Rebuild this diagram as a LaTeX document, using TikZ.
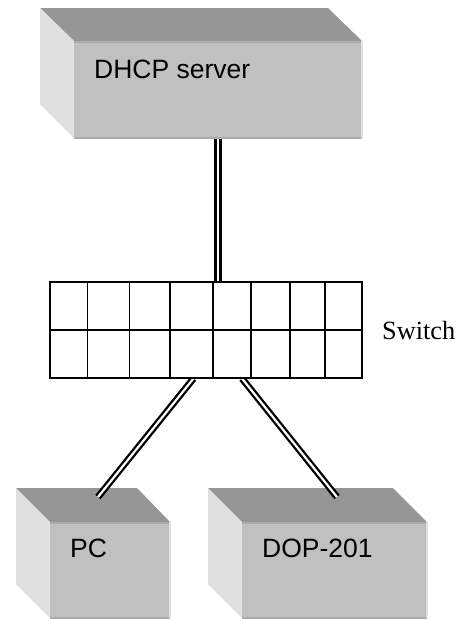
\documentclass[tikz,border=0pt]{standalone}
\usepackage{fontspec}
\setmainfont{Liberation Sans}
\newfontfamily\serifface{Liberation Serif}
\definecolor{topc}{HTML}{969696}
\definecolor{frontc}{HTML}{C0C0C0}
\definecolor{sidec}{HTML}{E0E0E0}
\definecolor{edgec}{HTML}{ABABAB}
\tikzset{
  x=1pt,y=-1pt,
  toplit/.style={fill=topc},
  frontlit/.style={fill=frontc},
  sidelit/.style={fill=sidec},
  darkedge/.style={edgec,line width=2pt},
  lightedge/.style={sidec,line width=2pt},
  lab/.style={inner sep=0pt,anchor=base west,font=\fontsize{26.5}{30}\selectfont,text=black},
  cable/.style={line width=8pt,black,line cap=butt},
  cablein/.style={line width=2.4pt,white,line cap=butt},
  slant/.style={line width=6.8pt,black,line cap=butt},
  slantin/.style={line width=2.2pt,white,line cap=butt},
  cellline/.style={line width=1.7pt,black},
}
\begin{document}
\begin{tikzpicture}
\useasboundingbox (0,0) rectangle (466,619);
% DHCP box
\fill[toplit] (40,8) -- (328,8) -- (362,41) -- (74,41) -- cycle;
\fill[sidelit] (40,8) -- (74,41) -- (74,138) -- (40,104) -- cycle;
\fill[frontlit] (74,41) rectangle (362,138);
\draw[darkedge] (74,42) -- (362,42);
\draw[darkedge] (74,138) -- (362,138);
\draw[lightedge] (362,41) -- (362,139);
% PC box
\fill[toplit] (16,488) -- (137,488) -- (170,522) -- (50,522) -- cycle;
\fill[sidelit] (16,488) -- (50,522) -- (50,618) -- (16,584) -- cycle;
\fill[frontlit] (50,522) rectangle (170,618);
\draw[darkedge] (50,523) -- (170,523);
\draw[darkedge] (50,617.5) -- (170,617.5);
\draw[lightedge] (170,522) -- (170,618);
% DOP box
\fill[toplit] (208,488) -- (393,488) -- (427,522) -- (242,522) -- cycle;
\fill[sidelit] (208,488) -- (242,522) -- (242,618) -- (208,584) -- cycle;
\fill[frontlit] (242,522) rectangle (427,618);
\draw[darkedge] (242,523) -- (427,523);
\draw[darkedge] (242,617.5) -- (427,617.5);
\draw[lightedge] (427,522) -- (427,618);
% labels
\node[lab] (dhcp) at (94,78) {DHCP server};
\node[lab] (pc) at (70,557) {PC};
\node[lab] (dop) at (262,557) {DOP-201};
\node[inner sep=0pt,anchor=base west,font=\serifface\fontsize{26.3}{30}\selectfont] (sw) at (382,339) {Switch};
% named anchors
\coordinate (srvb) at (218,139);
\coordinate (swt) at (218,282);
\coordinate (swl) at (193.5,378.5);
\coordinate (swr) at (242,378.5);
\coordinate (pct) at (98,497);
\coordinate (dopt) at (337,497);
\draw[cable] (srvb) -- (swt);
\draw[cablein] (srvb) -- (swt);
\draw[slant] (swl) -- (pct);
\draw[slantin] (swl) -- (pct);
\draw[slant] (swr) -- (dopt);
\draw[slantin] (swr) -- (dopt);
% switch grid
\fill[white] (50,282) rectangle (362,378);
\draw[cellline] (50,282) rectangle (362,378);
\draw[cellline] (50,330) -- (362,330);
\foreach \x in {87.5,129.5,170,213,251,290,325}
  \draw[cellline] (\x,282) -- (\x,378);
\end{tikzpicture}
\end{document}
